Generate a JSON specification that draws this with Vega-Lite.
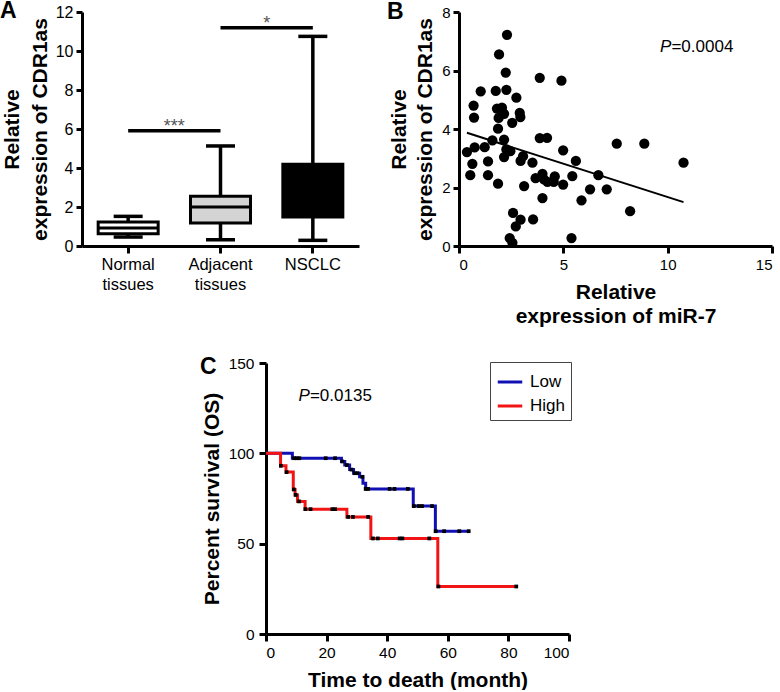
{
  "$schema": "https://vega.github.io/schema/vega-lite/v6.json",
  "background": "white",
  "padding": {"left": 0, "top": 0, "right": 0, "bottom": 0},
  "config": {
    "view": {"stroke": null},
    "font": "Liberation Sans",
    "axis": {
      "domainColor": "black", "domainWidth": 3, "tickColor": "black", "tickWidth": 3, "tickSize": 7,
      "labelColor": "black", "labelFontSize": 16, "labelPadding": 3,
      "titleColor": "black", "titleFontSize": 21, "titleFontWeight": "bold", "titleLineHeight": 27,
      "grid": false
    },
    "title": {"fontSize": 23, "fontWeight": "bold", "color": "black", "anchor": "start", "frame": "group", "offset": 0}
  },
  "datasets": {
    "boxes": [
      {"group": "Normal tissues", "min": 0.46, "q1": 0.63, "median": 0.92, "q3": 1.23, "max": 1.52},
      {"group": "Adjacent tissues", "min": 0.32, "q1": 1.18, "median": 2.0, "q3": 2.55, "max": 5.13},
      {"group": "NSCLC", "min": 0.29, "q1": 1.49, "median": 2.6, "q3": 4.19, "max": 10.75}
    ],
    "sig": [
      {"from": "Normal tissues", "to": "Adjacent tissues", "y": 5.91, "label": "***", "at": "Adjacent tissues"},
      {"from": "Adjacent tissues", "to": "NSCLC", "y": 11.19, "label": "*", "at": "NSCLC"}
    ],
    "scatter": [
      {"mir7": 0.38, "cdr": 3.21}, {"mir7": 0.54, "cdr": 2.42}, {"mir7": 0.64, "cdr": 2.81}, {"mir7": 0.70, "cdr": 4.80},
      {"mir7": 0.72, "cdr": 4.39}, {"mir7": 0.75, "cdr": 3.37}, {"mir7": 1.04, "cdr": 5.29}, {"mir7": 1.23, "cdr": 3.38},
      {"mir7": 1.39, "cdr": 2.89}, {"mir7": 1.39, "cdr": 2.42}, {"mir7": 1.60, "cdr": 3.61}, {"mir7": 1.76, "cdr": 5.30},
      {"mir7": 1.82, "cdr": 4.70}, {"mir7": 1.87, "cdr": 4.01}, {"mir7": 1.87, "cdr": 2.13}, {"mir7": 1.90, "cdr": 4.38},
      {"mir7": 1.92, "cdr": 6.55}, {"mir7": 2.06, "cdr": 4.73}, {"mir7": 2.16, "cdr": 4.52}, {"mir7": 2.16, "cdr": 3.64},
      {"mir7": 2.16, "cdr": 3.04}, {"mir7": 2.24, "cdr": 5.93}, {"mir7": 2.27, "cdr": 5.34}, {"mir7": 2.27, "cdr": 3.30},
      {"mir7": 2.30, "cdr": 7.22}, {"mir7": 2.43, "cdr": 0.27}, {"mir7": 2.46, "cdr": 3.24}, {"mir7": 2.55, "cdr": 4.21},
      {"mir7": 2.56, "cdr": 0.11}, {"mir7": 2.59, "cdr": 1.13}, {"mir7": 2.72, "cdr": 0.67}, {"mir7": 2.75, "cdr": 5.07},
      {"mir7": 2.91, "cdr": 4.55}, {"mir7": 2.94, "cdr": 4.41}, {"mir7": 2.95, "cdr": 2.91}, {"mir7": 2.95, "cdr": 0.90},
      {"mir7": 3.07, "cdr": 3.07}, {"mir7": 3.12, "cdr": 2.05}, {"mir7": 3.52, "cdr": 2.85}, {"mir7": 3.55, "cdr": 0.91},
      {"mir7": 3.67, "cdr": 2.32}, {"mir7": 3.87, "cdr": 5.75}, {"mir7": 3.87, "cdr": 3.69}, {"mir7": 4.00, "cdr": 2.47},
      {"mir7": 4.00, "cdr": 1.64}, {"mir7": 4.07, "cdr": 2.28}, {"mir7": 4.22, "cdr": 3.70}, {"mir7": 4.24, "cdr": 2.19},
      {"mir7": 4.54, "cdr": 2.19}, {"mir7": 4.59, "cdr": 2.38}, {"mir7": 4.91, "cdr": 5.65}, {"mir7": 4.99, "cdr": 3.27},
      {"mir7": 4.99, "cdr": 2.10}, {"mir7": 5.39, "cdr": 0.27}, {"mir7": 5.43, "cdr": 2.39}, {"mir7": 5.60, "cdr": 2.91},
      {"mir7": 5.87, "cdr": 1.56}, {"mir7": 6.28, "cdr": 1.94}, {"mir7": 6.68, "cdr": 2.42}, {"mir7": 7.08, "cdr": 1.94},
      {"mir7": 7.56, "cdr": 3.50}, {"mir7": 8.20, "cdr": 1.19}, {"mir7": 8.88, "cdr": 3.50}, {"mir7": 10.76, "cdr": 2.85}
    ],
    "fit": [{"mir7": 0.38, "cdr": 3.87}, {"mir7": 10.76, "cdr": 1.50}],
    "km": [
      {"group": "Low", "t": 0, "s": 100}, {"group": "Low", "t": 8.7, "s": 97.3}, {"group": "Low", "t": 24.9, "s": 95.5},
      {"group": "Low", "t": 26.0, "s": 93.5}, {"group": "Low", "t": 27.6, "s": 91.0}, {"group": "Low", "t": 28.9, "s": 89.0},
      {"group": "Low", "t": 30.9, "s": 87.0}, {"group": "Low", "t": 32.0, "s": 83.5}, {"group": "Low", "t": 32.9, "s": 80.3},
      {"group": "Low", "t": 48.6, "s": 70.8}, {"group": "Low", "t": 55.9, "s": 56.9}, {"group": "Low", "t": 67.2, "s": 56.9},
      {"group": "High", "t": 0, "s": 100}, {"group": "High", "t": 4.8, "s": 93.1}, {"group": "High", "t": 6.6, "s": 89.6},
      {"group": "High", "t": 9.0, "s": 80.0}, {"group": "High", "t": 9.6, "s": 77.0}, {"group": "High", "t": 10.4, "s": 73.4},
      {"group": "High", "t": 12.9, "s": 69.1}, {"group": "High", "t": 26.7, "s": 64.8}, {"group": "High", "t": 34.6, "s": 52.9},
      {"group": "High", "t": 56.7, "s": 26.3}, {"group": "High", "t": 83.0, "s": 26.3}
    ],
    "censor": [
      {"t": 9.3, "s": 97.3}, {"t": 10.1, "s": 97.3}, {"t": 11.0, "s": 97.3}, {"t": 19.7, "s": 97.3}, {"t": 22.8, "s": 97.3},
      {"t": 25.2, "s": 95.5}, {"t": 26.7, "s": 93.5}, {"t": 28.2, "s": 91.0}, {"t": 29.3, "s": 89.0}, {"t": 30.2, "s": 89.0},
      {"t": 31.8, "s": 87.0}, {"t": 32.9, "s": 80.3}, {"t": 33.7, "s": 80.3}, {"t": 40.8, "s": 80.3}, {"t": 42.4, "s": 80.3},
      {"t": 46.8, "s": 80.3}, {"t": 48.8, "s": 70.8}, {"t": 50.4, "s": 70.8}, {"t": 51.5, "s": 70.8}, {"t": 54.8, "s": 70.8},
      {"t": 56.0, "s": 56.9}, {"t": 58.8, "s": 56.9}, {"t": 63.8, "s": 56.9}, {"t": 66.9, "s": 56.9},
      {"t": 4.9, "s": 93.1}, {"t": 6.8, "s": 89.6}, {"t": 9.2, "s": 80.0}, {"t": 9.8, "s": 77.0}, {"t": 10.9, "s": 73.4},
      {"t": 13.0, "s": 69.1}, {"t": 14.7, "s": 69.1}, {"t": 21.9, "s": 69.1}, {"t": 22.8, "s": 69.1}, {"t": 27.1, "s": 64.8},
      {"t": 28.7, "s": 64.8}, {"t": 33.7, "s": 64.8}, {"t": 35.3, "s": 52.9}, {"t": 36.9, "s": 52.9}, {"t": 44.1, "s": 52.9},
      {"t": 45.0, "s": 52.9}, {"t": 53.9, "s": 52.9}, {"t": 56.9, "s": 26.3}, {"t": 82.6, "s": 26.3}
    ],
    "pvals": [{"panel": "B", "x": 9.63, "y": 6.8, "rest": "=0.0004"}, {"panel": "C", "x": 10.7, "y": 132, "rest": "=0.0135"}]
  },
  "concat": [
    {
      "width": 277, "height": 234,
      "title": {"text": "A", "dx": -82, "dy": 23},
      "layer": [
        {
          "data": {"name": "boxes"},
          "mark": {"type": "rule", "strokeWidth": 3.5, "color": "black"},
          "encoding": {
            "x": {"field": "group", "type": "nominal", "sort": ["Normal tissues", "Adjacent tissues", "NSCLC"],
                  "scale": {"domain": ["Normal tissues", "Adjacent tissues", "NSCLC"], "paddingInner": 0, "paddingOuter": 0},
                  "axis": {"title": null, "labelAngle": 0, "labelExpr": "split(datum.label, ' ')", "labelLineHeight": 20, "labelFontSize": 16.5, "labelPadding": 3}},
            "y": {"field": "min", "type": "quantitative", "scale": {"domain": [0, 12], "nice": false},
                  "axis": {"values": [0, 2, 4, 6, 8, 10, 12], "labelOverlap": false, "title": ["Relative", "expression of CDR1as"], "titlePadding": 5, "titleLineHeight": 28, "tickSize": 6}},
            "y2": {"field": "max"}
          }
        },
        {
          "data": {"name": "boxes"},
          "mark": {"type": "bar", "width": 60, "stroke": "black", "strokeWidth": 3},
          "encoding": {
            "x": {"field": "group", "type": "nominal", "sort": ["Normal tissues", "Adjacent tissues", "NSCLC"]},
            "y": {"field": "q1", "type": "quantitative",
                  "axis": {"values": [0, 2, 4, 6, 8, 10, 12], "labelOverlap": false, "title": ["Relative", "expression of CDR1as"], "titlePadding": 5, "titleLineHeight": 28, "tickSize": 6}},
            "y2": {"field": "q3"},
            "fill": {"field": "group", "type": "nominal", "scale": {"domain": ["Normal tissues", "Adjacent tissues", "NSCLC"], "range": ["white", "#d4d4d4", "black"]}, "legend": null}
          }
        },
        {
          "data": {"name": "boxes"},
          "mark": {"type": "tick", "size": 60, "thickness": 3, "color": "black", "opacity": 1},
          "encoding": {
            "x": {"field": "group", "type": "nominal", "sort": ["Normal tissues", "Adjacent tissues", "NSCLC"]},
            "y": {"field": "median", "type": "quantitative",
                  "axis": {"values": [0, 2, 4, 6, 8, 10, 12], "labelOverlap": false, "title": ["Relative", "expression of CDR1as"], "titlePadding": 5, "titleLineHeight": 28, "tickSize": 6}}
          }
        },
        {
          "data": {"name": "boxes"},
          "mark": {"type": "tick", "size": 29, "thickness": 3.5, "color": "black", "opacity": 1},
          "encoding": {
            "x": {"field": "group", "type": "nominal", "sort": ["Normal tissues", "Adjacent tissues", "NSCLC"]},
            "y": {"field": "min", "type": "quantitative",
                  "axis": {"values": [0, 2, 4, 6, 8, 10, 12], "labelOverlap": false, "title": ["Relative", "expression of CDR1as"], "titlePadding": 5, "titleLineHeight": 28, "tickSize": 6}}
          }
        },
        {
          "data": {"name": "boxes"},
          "mark": {"type": "tick", "size": 29, "thickness": 3.5, "color": "black", "opacity": 1},
          "encoding": {
            "x": {"field": "group", "type": "nominal", "sort": ["Normal tissues", "Adjacent tissues", "NSCLC"]},
            "y": {"field": "max", "type": "quantitative",
                  "axis": {"values": [0, 2, 4, 6, 8, 10, 12], "labelOverlap": false, "title": ["Relative", "expression of CDR1as"], "titlePadding": 5, "titleLineHeight": 28, "tickSize": 6}}
          }
        },
        {
          "data": {"name": "sig"},
          "mark": {"type": "rule", "strokeWidth": 3.5, "color": "black"},
          "encoding": {
            "x": {"field": "from", "type": "nominal"},
            "x2": {"field": "to"},
            "y": {"field": "y", "type": "quantitative",
                  "axis": {"values": [0, 2, 4, 6, 8, 10, 12], "labelOverlap": false, "title": ["Relative", "expression of CDR1as"], "titlePadding": 5, "titleLineHeight": 28, "tickSize": 6}}
          }
        },
        {
          "data": {"name": "sig"},
          "mark": {"type": "text", "fontSize": 18, "color": "#555", "baseline": "alphabetic", "align": "center", "dy": 1},
          "encoding": {
            "x": {"field": "at", "type": "nominal", "bandPosition": 0},
            "y": {"field": "y", "type": "quantitative",
                  "axis": {"values": [0, 2, 4, 6, 8, 10, 12], "labelOverlap": false, "title": ["Relative", "expression of CDR1as"], "titlePadding": 5, "titleLineHeight": 28, "tickSize": 6}},
            "text": {"field": "label"}
          }
        }
      ]
    },
    {
      "width": 313, "height": 234,
      "title": {"text": "B", "dx": -72, "dy": 23},
      "layer": [
        {
          "data": {"name": "scatter"},
          "mark": {"type": "circle", "size": 105, "color": "black", "opacity": 1},
          "encoding": {
            "x": {"field": "mir7", "type": "quantitative", "scale": {"domain": [0, 15], "nice": false},
                  "axis": {"values": [0, 5, 10, 15], "title": ["Relative", "expression of miR-7"], "titlePadding": 9, "titleLineHeight": 24, "labelFontSize": 15, "labelPadding": 4}},
            "y": {"field": "cdr", "type": "quantitative", "scale": {"domain": [0, 8], "nice": false},
                  "axis": {"values": [0, 2, 4, 6, 8], "title": ["Relative", "expression of CDR1as"], "titlePadding": 6, "titleLineHeight": 26, "labelFontSize": 15, "tickSize": 6}}
          }
        },
        {
          "data": {"name": "fit"},
          "mark": {"type": "line", "color": "black", "strokeWidth": 2},
          "encoding": {
            "x": {"field": "mir7", "type": "quantitative"},
            "y": {"field": "cdr", "type": "quantitative"}
          }
        },
        {
          "data": {"name": "pvals"},
          "transform": [{"filter": "datum.panel === 'B'"}],
          "layer": [
            {"mark": {"type": "text", "text": "P", "fontStyle": "italic", "fontSize": 17, "align": "left", "baseline": "middle", "color": "black"},
             "encoding": {"x": {"field": "x", "type": "quantitative"}, "y": {"field": "y", "type": "quantitative"}}},
            {"mark": {"type": "text", "fontSize": 17, "align": "left", "baseline": "middle", "dx": 11.5, "color": "black"},
             "encoding": {"x": {"field": "x", "type": "quantitative"}, "y": {"field": "y", "type": "quantitative"}, "text": {"field": "rest"}}}
          ]
        }
      ]
    },
    {
      "width": 277, "height": 271,
      "title": {"text": "C", "dx": 118, "dy": 27},
      "layer": [
        {
          "data": {"name": "km"},
          "transform": [{"filter": "datum.group === 'Low'"}],
          "mark": {"type": "line", "interpolate": "step-after", "strokeWidth": 3},
          "encoding": {
            "x": {"field": "t", "type": "quantitative", "scale": {"domain": [0, 100], "range": [184, 487], "nice": false},
                  "axis": {"values": [0, 20, 40, 60, 80, 100], "title": "Time to death (month)", "titleX": 335.5, "titleY": 52, "titleBaseline": "alphabetic", "titleAlign": "center", "labelFontSize": 15.5, "labelPadding": 4}},
            "y": {"field": "s", "type": "quantitative", "scale": {"domain": [0, 150], "nice": false},
                  "axis": {"values": [0, 50, 100, 150], "offset": -184, "title": "Percent survival (OS)", "titlePadding": 6, "labelFontSize": 15.5, "labelPadding": 5}},
            "color": {"field": "group", "type": "nominal", "scale": {"domain": ["Low", "High"], "range": ["#1010b4", "#f21414"]},
                      "legend": {"orient": "none", "legendX": 408, "legendY": -1, "title": null, "symbolType": "stroke", "symbolStrokeWidth": 3, "symbolSize": 600, "labelFontSize": 17, "labelColor": "black", "strokeColor": "#444", "padding": 6, "rowPadding": 2, "labelOffset": 6, "fillColor": "white"}}
          }
        },
        {
          "data": {"name": "km"},
          "transform": [{"filter": "datum.group === 'High'"}],
          "mark": {"type": "line", "interpolate": "step-after", "strokeWidth": 3},
          "encoding": {
            "x": {"field": "t", "type": "quantitative"},
            "y": {"field": "s", "type": "quantitative"},
            "color": {"field": "group", "type": "nominal"}
          }
        },
        {
          "data": {"name": "censor"},
          "mark": {"type": "square", "size": 14, "color": "black", "opacity": 1, "filled": true},
          "encoding": {
            "x": {"field": "t", "type": "quantitative"},
            "y": {"field": "s", "type": "quantitative"}
          }
        },
        {
          "data": {"name": "pvals"},
          "transform": [{"filter": "datum.panel === 'C'"}],
          "layer": [
            {"mark": {"type": "text", "text": "P", "fontStyle": "italic", "fontSize": 17, "align": "left", "baseline": "middle", "color": "black"},
             "encoding": {"x": {"field": "x", "type": "quantitative"}, "y": {"field": "y", "type": "quantitative"}}},
            {"mark": {"type": "text", "fontSize": 17, "align": "left", "baseline": "middle", "dx": 11.5, "color": "black"},
             "encoding": {"x": {"field": "x", "type": "quantitative"}, "y": {"field": "y", "type": "quantitative"}, "text": {"field": "rest"}}}
          ]
        }
      ]
    }
  ],
  "columns": 2,
  "align": "none",
  "bounds": "flush",
  "spacing": {"row": 117, "column": 100},
  "resolve": {"scale": {"color": "independent", "fill": "independent"}, "legend": {"color": "independent", "fill": "independent"}}
}
